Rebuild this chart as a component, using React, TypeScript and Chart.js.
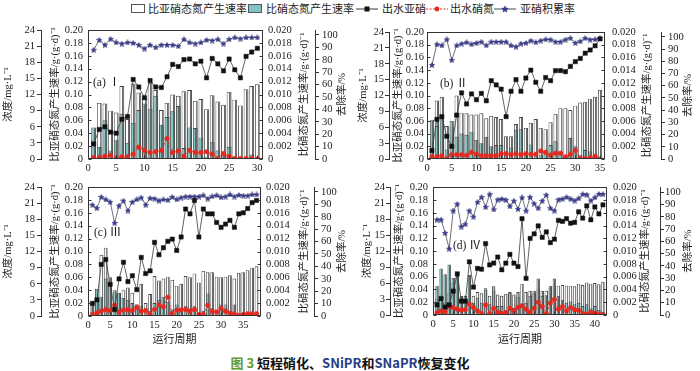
import React, { useEffect, useRef } from 'react';
import { Chart, registerables } from 'chart.js';
Chart.register(...registerables);

// ---------- data ----------
const CYCLES_A = [1, 2, 3, 4, 5, 6, 7, 8, 9, 10, 11, 12, 13, 14, 15, 16, 17, 18, 19, 20, 21, 22, 23, 24, 25, 26, 27, 28, 29, 30];
const A_NO2_RATE = [0.03, 0.087, 0.086, 0.075, 0.072, 0.113, 0.062, 0.117, 0.103, 0.094, 0.118, 0.107, 0.076, 0.087, 0.100, 0.098, 0.105, 0.107, 0.090, 0.093, 0.077, 0.099, 0.089, 0.084, 0.104, 0.092, 0.083, 0.108, 0.113, 0.116];
const A_NO3_RATE = [0.0049, 0.0019, 0.006, 0.0013, 0.003, 0.007, 0.0025, 0.0056, 0.0076, 0.0086, 0.0078, 0.0098, 0.0053, 0.0065, 0.0074, 0.0082, 0.0017, 0.0049, 0.0048, 0.0033, 0.0004, 0.0026, 0.0013, 0.0008, 0.0019, 0.0004, 0.0002, 0.0002, 0.0007, 0.0001];
const A_NO2_EFF = [2.8, 5.5, 6.0, 5.0, 4.8, 7.4, 7.9, 14.8, 13.4, 11.4, 14.6, 13.4, 13.3, 15.3, 17.6, 17.2, 18.5, 18.6, 17.7, 18.2, 15.1, 18.7, 17.7, 16.4, 18.6, 16.6, 15.1, 19.1, 19.9, 20.6];
const A_NO3_EFF = [0.25, 0.25, 0.5, 0.7, 0.2, 0.4, 0.4, 0.9, 2.2, 1.6, 1.2, 1.35, 1.6, 3.8, 1.2, 1.5, 0.5, 1.6, 1.2, 1.2, 1.35, 0.9, 0.1, 1.0, 0.5, 0.1, 0.1, 0.1, 0.1, 0.0];
const A_NAR = [88, 96, 92, 96.8, 94, 93, 94, 93.6, 92, 89, 92, 90, 92, 92, 92, 91, 96.5, 94, 93, 94, 96, 95.5, 96.5, 93, 96.5, 98, 97, 98, 98, 98];

const CYCLES_B = [1, 2, 3, 4, 5, 6, 7, 8, 9, 10, 11, 12, 13, 14, 15, 16, 17, 18, 19, 20, 21, 22, 23, 24, 25, 26, 27, 28, 29, 30, 31, 32, 33, 34, 35];
const B_NO2_RATE = [0.03, 0.092, 0.098, 0.052, 0.05, 0.100, 0.073, 0.072, 0.070, 0.070, 0.072, 0.064, 0.068, 0.066, 0.063, 0.036, 0.036, 0.055, 0.066, 0.049, 0.057, 0.063, 0.049, 0.047, 0.058, 0.071, 0.080, 0.080, 0.077, 0.084, 0.089, 0.090, 0.095, 0.098, 0.109];
const B_NO3_RATE = [0.0062, 0.0052, 0.0068, 0.0015, 0.006, 0.0035, 0.0040, 0.0038, 0.0042, 0.003, 0.0025, 0.0035, 0.002, 0.0022, 0.0022, 0.0012, 0.0018, 0.0046, 0.0047, 0.0008, 0.0023, 0.0010, 0.0006, 0.0012, 0.0022, 0.0028, 0.0012, 0.0005, 0.0033, 0.0020, 0.0006, 0.0014, 0.0012, 0.0008, 0.0003];
const B_NO2_EFF = [1.6, 7.5, 8.0, 4.3, 2.4, 8.3, 12.5, 10.4, 12.3, 11.2, 12.4, 11.0, 14.8, 14.0, 13.2, 8.0, 12.8, 15.0, 12.8, 15.3, 16.8, 14.5, 12.8, 15.4, 14.8, 16.7, 16.7, 16.5, 17.5, 18.4, 19.0, 20.0, 20.6, 21.4, 22.7];
const B_NO3_EFF = [0.4, 0.4, 0.6, 0.1, 0.8, 0.8, 0.8, 0.7, 1.25, 0.9, 0.6, 0.6, 0.6, 0.6, 1.0, 1.0, 0.8, 1.0, 0.8, 1.0, 0.9, 0.9, 1.5, 1.25, 0.75, 1.1, 1.1, 0.4, 0.9, 1.6, 0.1, 0.1, 0.25, 0.5, 0.0];
const B_NAR = [77, 94, 93, 98, 81, 93, 94.5, 95.6, 94, 95, 96, 93, 96, 96, 96, 96, 93, 92, 94.5, 95, 97, 95.6, 97, 98, 97.8, 96, 96, 97.8, 99, 95, 96.4, 99, 97.8, 98, 99];

const CYCLES_C = [1, 2, 3, 4, 5, 6, 7, 8, 9, 10, 11, 12, 13, 14, 15, 16, 17, 18, 19, 20, 21, 22, 23, 24, 25, 26, 27, 28, 29, 30, 31, 32, 33, 34, 35, 36, 37, 38];
const C_NO2_RATE = [0.02, 0.03, 0.095, 0.106, 0.060, 0.040, 0.036, 0.040, 0.044, 0.036, 0.018, 0.050, 0.020, 0.034, 0.062, 0.055, 0.058, 0.061, 0.056, 0.047, 0.050, 0.062, 0.060, 0.066, 0.052, 0.070, 0.068, 0.068, 0.061, 0.060, 0.061, 0.063, 0.058, 0.067, 0.068, 0.071, 0.075, 0.077];
const C_NO3_RATE = [0.002, 0.0042, 0.003, 0.0058, 0.0052, 0.0038, 0.0035, 0.0028, 0.0025, 0.002, 0.0018, 0.0015, 0.0012, 0.0008, 0.002, 0.0025, 0.003, 0.0022, 0.001, 0.0018, 0.0012, 0.0015, 0.001, 0.0015, 0.0005, 0.0008, 0.0035, 0.0012, 0.0008, 0.0018, 0.0018, 0.0008, 0.0018, 0.0003, 0.0003, 0.0003, 0.0003, 0.0003];
const C_NO2_EFF = [2.35, 3.0, 9.6, 10.5, 5.9, 1.2, 6.9, 10.0, 6.4, 7.5, 4.9, 10.9, 7.9, 8.4, 13.7, 11.4, 12.7, 13.9, 14.3, 12.2, 14.7, 19.9, 19.0, 21.5, 14.7, 19.9, 19.0, 19.0, 17.4, 16.5, 17.1, 17.8, 16.5, 19.0, 19.2, 20.0, 21.1, 21.5];
const C_NO3_EFF = [0.25, 0.6, 0.9, 1.2, 1.0, 2.0, 0.75, 1.1, 1.2, 1.0, 1.6, 0.9, 1.0, 0.4, 1.2, 2.1, 1.7, 3.5, 0.4, 1.1, 1.1, 1.2, 0.9, 1.2, 0.25, 0.25, 2.0, 0.9, 0.75, 1.4, 0.9, 0.5, 0.4, 0.1, 0.25, 0.4, 0.4, 0.4];
const C_NAR = [89.6, 87, 96, 94, 92, 75, 89, 93, 85, 92, 94, 95.5, 89.6, 95, 94.7, 93, 94, 93.6, 96, 94, 95.5, 96.3, 96.3, 96.3, 96.3, 97.3, 94.7, 96.5, 97.3, 95.7, 96.3, 98, 96.3, 97.6, 97, 97, 98, 98];

const CYCLES_D = [1, 2, 3, 4, 5, 6, 7, 8, 9, 10, 11, 12, 13, 14, 15, 16, 17, 18, 19, 20, 21, 22, 23, 24, 25, 26, 27, 28, 29, 30, 31, 32, 33, 34, 35, 36, 37, 38, 39, 40, 41, 42];
const D_NO2_RATE = [0.025, 0.03, 0.02, 0.035, 0.05, 0.066, 0.028, 0.03, 0.061, 0.03, 0.036, 0.034, 0.040, 0.030, 0.038, 0.032, 0.030, 0.033, 0.036, 0.032, 0.028, 0.049, 0.036, 0.038, 0.038, 0.040, 0.038, 0.038, 0.042, 0.046, 0.046, 0.047, 0.046, 0.046, 0.045, 0.049, 0.047, 0.051, 0.049, 0.050, 0.048, 0.052];
const D_NO3_RATE = [0.0046, 0.0073, 0.0064, 0.0079, 0.0058, 0.0061, 0.003, 0.003, 0.0063, 0.0019, 0.0027, 0.0019, 0.0042, 0.0017, 0.0045, 0.0014, 0.0014, 0.0008, 0.0035, 0.0011, 0.0036, 0.0017, 0.0019, 0.003, 0.0034, 0.0057, 0.003, 0.0031, 0.0046, 0.0057, 0.003, 0.0024, 0.0019, 0.0021, 0.0017, 0.0019, 0.0014, 0.0017, 0.001, 0.0014, 0.0008, 0.0005];
const D_NO2_EFF = [1.9, 3.1, 1.5, 1.9, 4.5, 7.75, 2.6, 2.6, 10.0, 5.25, 8.75, 8.6, 13.4, 9.4, 9.75, 10.9, 8.5, 9.75, 11.4, 9.75, 9.1, 18.1, 6.9, 14.4, 15.25, 16.75, 14.6, 15.6, 13.6, 14.25, 17.8, 17.6, 18.1, 17.25, 17.4, 19.4, 18.2, 20.5, 17.9, 20.3, 19.0, 20.7];
const D_NO3_EFF = [0.4, 0.75, 0.6, 1.6, 1.4, 1.1, 0.9, 1.0, 2.0, 1.4, 0.75, 0.25, 1.9, 0.25, 1.25, 0.5, 0.25, 0.4, 1.25, 0.75, 1.4, 1.75, 1.1, 0.5, 1.25, 2.4, 1.6, 0.25, 2.25, 2.9, 1.1, 1.6, 0.75, 1.4, 1.0, 0.9, 0.25, 0.1, 0.5, 0.25, 0.1, 0.1];
const D_NAR = [77.7, 77.7, 66.8, 54, 85, 90.5, 72, 74, 85, 80, 92, 96, 88, 98.4, 86, 94, 94.6, 93.8, 88.6, 93, 86.4, 95.7, 85, 96, 90.8, 87, 93, 97.8, 87, 85, 94, 94.6, 96, 94.6, 93.2, 95, 98.4, 98, 93.2, 95.7, 98.6, 98.4];

// tick labels
const CONC_TICKS = [0, 3, 6, 9, 12, 15, 18, 21, 24];
const NO2R_TICKS = [0, 0.02, 0.04, 0.06, 0.08, 0.10, 0.12, 0.14, 0.16, 0.18, 0.20];
const NO3R_TICKS = [0, 0.002, 0.004, 0.006, 0.008, 0.010, 0.012, 0.014, 0.016, 0.018, 0.020];
const REM_TICKS = [0, 10, 20, 30, 40, 50, 60, 70, 80, 90, 100];
const X_TICKS_A = [0, 5, 10, 15, 20, 25, 30];
const X_TICKS_B = [0, 5, 10, 15, 20, 25, 30, 35];
const X_TICKS_C = [0, 5, 10, 15, 20, 25, 30, 35];
const X_TICKS_D = [0, 5, 10, 15, 20, 25, 30, 35, 40];

// text
const S_NO2_RATE = '比亚硝态氮产生速率';
const S_NO3_RATE = '比硝态氮产生速率';
const S_NO2_EFF = '出水亚硝';
const S_NO3_EFF = '出水硝氮';
const S_NAR = '亚硝积累率';
const T_CONC = '浓度/mg·L⁻¹';
const T_NO2R = '比亚硝态氮产生速率/g·(g·d)⁻¹';
const T_NO3R = '比硝态氮产生速率/g·(g·d)⁻¹';
const T_REM = '去除率/%';
const T_X = '运行周期';

// ---------- style ----------
const SERIF = "'Liberation Serif', 'Times New Roman', 'Noto Sans CJK SC', serif";
const INK = '#1c1c1c';
const AX = '#333333';
const BAR_PCT = 0.85;
const TEAL_FRONT = '#80c4c4';
const TEAL_SIDE = '#5f6a6a';
const WHITE_SIDE = '#6a6a6a';
const BAR_EDGE = '#474747';
const RED = '#e6281e';
const STAR_FILL = '#3a3d96';
const STAR_EDGE = '#1f2066';
const TITLE_SIZE = 10.5;

function makeStar(size: number) {
  const c = document.createElement('canvas');
  c.width = size; c.height = size;
  const g = c.getContext('2d')!;
  const cx = size / 2, cy = size / 2 + 0.3, R = size / 2 - 0.2, r = R * 0.45;
  g.beginPath();
  for (let i = 0; i < 10; i++) {
    const a = -Math.PI / 2 + (i * Math.PI) / 5;
    const rr = i % 2 === 0 ? R : r;
    g.lineTo(cx + rr * Math.cos(a), cy + rr * Math.sin(a));
  }
  g.closePath();
  g.fillStyle = STAR_FILL; g.fill();
  g.strokeStyle = STAR_EDGE; g.lineWidth = 0.5; g.stroke();
  return c;
}

const barFill = (front: string, side: string, split: number) => (ctx: any) => {
  const chart = ctx.chart;
  const xs = chart.scales && chart.scales.x;
  if (ctx.type !== 'data' || !xs || !ctx.raw || !chart.chartArea) return front;
  const px = xs.getPixelForValue(ctx.raw.x);
  const step = Math.abs(xs.getPixelForValue(1) - xs.getPixelForValue(0));
  const w = step * BAR_PCT;
  if (!isFinite(px) || !isFinite(w) || w <= 0) return front;
  const g = chart.ctx.createLinearGradient(px - w / 2, 0, px + w / 2, 0);
  g.addColorStop(0, front);
  g.addColorStop(split, front);
  g.addColorStop(Math.min(1, split + 0.001), side);
  g.addColorStop(1, side);
  return g;
};

// frame, inward ticks, and right-hand axis titles reading bottom-to-top
const framePlugin = {
  id: 'frame',
  afterDraw(chart: any, _args: any, opts: any) {
    const { ctx, chartArea: a, scales } = chart;
    ctx.save();
    ctx.strokeStyle = AX;
    ctx.lineWidth = 1;
    const L = Math.round(a.left) + 0.5, R = Math.round(a.right) - 0.5;
    const T = Math.round(a.top) + 0.5, B = Math.round(a.bottom) - 0.5;
    ctx.strokeRect(L, T, R - L, B - T);
    ctx.beginPath();
    for (const t of scales.yL.ticks) {
      const y = Math.round(scales.yL.getPixelForValue(t.value)) + 0.5;
      ctx.moveTo(L, y); ctx.lineTo(L + 3, y);
    }
    for (const t of scales.yR.ticks) {
      const y = Math.round(scales.yR.getPixelForValue(t.value)) + 0.5;
      ctx.moveTo(R, y); ctx.lineTo(R - 3, y);
    }
    for (const t of scales.x.ticks) {
      const x = Math.round(scales.x.getPixelForValue(t.value)) + 0.5;
      ctx.moveTo(x, B); ctx.lineTo(x, B - 3);
    }
    ctx.stroke();

    ctx.fillStyle = INK;
    ctx.font = `${TITLE_SIZE}px ${SERIF}`;
    ctx.textAlign = 'center';
    ctx.textBaseline = 'middle';
    const cy = (a.top + a.bottom) / 2;
    const half = (TITLE_SIZE * 1.2) / 2;
    const items = [
      { s: scales.yR, text: T_NO3R, pad: opts.tpR },
      { s: scales.yP, text: T_REM, pad: opts.tpP },
    ];
    for (const it of items) {
      const x = it.s.right - it.pad - half;
      ctx.save();
      ctx.translate(x, cy);
      ctx.rotate(-Math.PI / 2);
      ctx.fillText(it.text, 0, 0);
      ctx.restore();
    }
    ctx.restore();
  },
};

type PanelCfg = {
  left: number; top: number; width: number; height: number;
  padTop: number; xHeight: number;
  wC: number; wL: number; wR: number; wP: number;
  tpC: number; tpL: number; tpR: number; tpP: number;
  lpC: number; lpL: number; lpR: number; lpP: number;
  xMax: number; xTicks: number[]; xTitle: boolean;
  cycles: number[]; no2Rate: number[]; no3Rate: number[];
  no2Eff: number[]; no3Eff: number[]; nar: number[];
};

const PANELS: PanelCfg[] = [
  {
    left: 0, top: 18, width: 352, height: 157, padTop: 12, xHeight: 16,
    wC: 41, wL: 47, wR: 52, wP: 37, tpC: 2, tpL: 8, tpR: 4, tpP: 3,
    lpC: 2, lpL: 5, lpR: 5, lpP: 3, xMax: 31, xTicks: X_TICKS_A, xTitle: false,
    cycles: CYCLES_A, no2Rate: A_NO2_RATE, no3Rate: A_NO3_RATE, no2Eff: A_NO2_EFF, no3Eff: A_NO3_EFF, nar: A_NAR,
  },
  {
    left: 352, top: 18, width: 348, height: 157, padTop: 14, xHeight: 16,
    wC: 37, wL: 38, wR: 56, wP: 39, tpC: 4.7, tpL: 2.7, tpR: 7.7, tpP: 5.7,
    lpC: 1, lpL: 3, lpR: 7, lpP: 3, xMax: 36, xTicks: X_TICKS_B, xTitle: false,
    cycles: CYCLES_B, no2Rate: B_NO2_RATE, no3Rate: B_NO3_RATE, no2Eff: B_NO2_EFF, no3Eff: B_NO3_EFF, nar: B_NAR,
  },
  {
    left: 0, top: 175, width: 352, height: 173, padTop: 12, xHeight: 32,
    wC: 41, wL: 47, wR: 53, wP: 38, tpC: 2, tpL: 8, tpR: 3.7, tpP: 3.7,
    lpC: 2, lpL: 5, lpR: 5, lpP: 3, xMax: 39, xTicks: X_TICKS_C, xTitle: true,
    cycles: CYCLES_C, no2Rate: C_NO2_RATE, no3Rate: C_NO3_RATE, no2Eff: C_NO2_EFF, no3Eff: C_NO3_EFF, nar: C_NAR,
  },
  {
    left: 352, top: 175, width: 348, height: 173, padTop: 11, xHeight: 33,
    wC: 38, wL: 43, wR: 53, wP: 40, tpC: 8.7, tpL: 2.7, tpR: 8.7, tpP: 5.7,
    lpC: 1, lpL: 5, lpR: 6, lpP: 1, xMax: 43, xTicks: X_TICKS_D, xTitle: true,
    cycles: CYCLES_D, no2Rate: D_NO2_RATE, no3Rate: D_NO3_RATE, no2Eff: D_NO2_EFF, no3Eff: D_NO3_EFF, nar: D_NAR,
  },
];

const PANEL_LABELS = [
  { text: '(a) Ⅰ', left: 93, top: 75 },
  { text: '(b) Ⅱ', left: 440, top: 76 },
  { text: '(c) Ⅲ', left: 94, top: 225 },
  { text: '(d) Ⅳ', left: 453, top: 238 },
];

function Panel({ cfg }: { cfg: PanelCfg }) {
  const ref = useRef<HTMLCanvasElement>(null);
  useEffect(() => {
    const canvas = ref.current!;
    const star = makeStar(6);
    const pts = (ys: number[]) => cfg.cycles.map((x, i) => ({ x, y: ys[i] }));
    const fixW = (w: number) => (s: any) => { s.width = w; };
    const setTicks = (vals: number[]) => (s: any) => { s.ticks = vals.map((v) => ({ value: v })); };
    const tickFont = { family: SERIF, size: 10.5 };
    const titleFont = { family: SERIF, size: TITLE_SIZE };
    const innerGrid = { display: false, drawTicks: false };
    const outerGrid = { display: true, drawOnChartArea: false, drawTicks: true, tickLength: 4, color: AX, lineWidth: 1 };

    const chart = new Chart(canvas, {
      type: 'bar',
      data: {
        datasets: [
          {
            type: 'line', label: S_NO2_EFF, data: pts(cfg.no2Eff), yAxisID: 'yC', order: 0,
            borderColor: '#3a3a3a', borderWidth: 0.8, pointStyle: 'rect', pointRadius: 3,
            pointBackgroundColor: '#111', pointBorderColor: '#111', pointBorderWidth: 0.5, tension: 0,
          },
          {
            type: 'line', label: S_NO3_EFF, data: pts(cfg.no3Eff), yAxisID: 'yC', order: 0,
            borderColor: RED, borderWidth: 0.9, borderDash: [2, 1.5], pointStyle: 'circle', pointRadius: 2.3,
            pointBackgroundColor: RED, pointBorderColor: RED, pointBorderWidth: 0.5, tension: 0,
          },
          {
            type: 'line', label: S_NAR, data: pts(cfg.nar), yAxisID: 'yP', order: 0,
            borderColor: '#4a4a5e', borderWidth: 0.8, pointStyle: star, pointRadius: 3, tension: 0,
          },
          {
            type: 'bar', label: S_NO3_RATE, data: pts(cfg.no3Rate), yAxisID: 'yR', order: 1,
            backgroundColor: barFill(TEAL_FRONT, TEAL_SIDE, 0.5), borderColor: BAR_EDGE, borderWidth: 0.9,
            grouped: false, barPercentage: BAR_PCT, categoryPercentage: 1,
          },
          {
            type: 'bar', label: S_NO2_RATE, data: pts(cfg.no2Rate), yAxisID: 'yL', order: 2,
            backgroundColor: barFill('#ffffff', WHITE_SIDE, 0.56), borderColor: BAR_EDGE, borderWidth: 0.9,
            grouped: false, barPercentage: BAR_PCT, categoryPercentage: 1,
          },
        ],
      } as any,
      options: {
        animation: false,
        responsive: false,
        maintainAspectRatio: false,
        layout: { padding: { top: cfg.padTop, left: 0, right: 0, bottom: 0 } },
        plugins: { legend: { display: false }, tooltip: { enabled: false }, frame: { tpR: cfg.tpR, tpP: cfg.tpP } },
        scales: {
          x: {
            type: 'linear', position: 'bottom', min: 0, max: cfg.xMax, offset: false,
            afterBuildTicks: setTicks(cfg.xTicks),
            afterFit: (s: any) => { s.height = cfg.xHeight; },
            ticks: { autoSkip: false, maxRotation: 0, padding: 3, font: tickFont, color: INK, callback: (v: any) => String(v) },
            grid: innerGrid, border: { display: false },
            title: cfg.xTitle
              ? { display: true, text: T_X, font: { family: SERIF, size: 11 }, color: INK, padding: { top: 0, bottom: 1.4 } }
              : { display: false },
          },
          yC: {
            type: 'linear', position: 'left', weight: 2, min: 0, max: 24,
            afterBuildTicks: setTicks(CONC_TICKS), afterFit: fixW(cfg.wC),
            ticks: { autoSkip: false, font: tickFont, color: INK, padding: cfg.lpC, callback: (v: any) => String(v) },
            grid: outerGrid, border: { display: true, color: AX, width: 1 },
            title: { display: true, text: T_CONC, font: titleFont, color: INK, padding: { top: cfg.tpC, bottom: 0 } },
          },
          yL: {
            type: 'linear', position: 'left', weight: 1, min: 0, max: 0.2,
            afterBuildTicks: setTicks(NO2R_TICKS), afterFit: fixW(cfg.wL),
            ticks: { autoSkip: false, font: tickFont, color: INK, padding: cfg.lpL, callback: (v: any) => (v === 0 ? '0' : Number(v).toFixed(2)) },
            grid: innerGrid, border: { display: false },
            title: { display: true, text: T_NO2R, font: titleFont, color: INK, padding: { top: cfg.tpL, bottom: 0 } },
          },
          yR: {
            type: 'linear', position: 'right', weight: 1, min: 0, max: 0.02,
            afterBuildTicks: setTicks(NO3R_TICKS), afterFit: fixW(cfg.wR),
            ticks: { autoSkip: false, font: tickFont, color: INK, padding: cfg.lpR, callback: (v: any) => (v === 0 ? '0' : Number(v).toFixed(3)) },
            grid: innerGrid, border: { display: false },
            title: { display: false },
          },
          yP: {
            type: 'linear', position: 'right', weight: 2, min: 0, max: 104,
            afterBuildTicks: setTicks(REM_TICKS), afterFit: fixW(cfg.wP),
            ticks: { autoSkip: false, font: tickFont, color: INK, padding: cfg.lpP, callback: (v: any) => String(v) },
            grid: outerGrid, border: { display: true, color: AX, width: 1 },
            title: { display: false },
          },
        },
      } as any,
      plugins: [framePlugin],
    });
    return () => chart.destroy();
  }, [cfg]);
  return (
    <canvas
      ref={ref}
      width={cfg.width}
      height={cfg.height}
      style={{ position: 'absolute', left: cfg.left, top: cfg.top, width: cfg.width, height: cfg.height }}
    />
  );
}

const STAR_POINTS = (() => {
  const out: string[] = [];
  for (let i = 0; i < 10; i++) {
    const a = -Math.PI / 2 + (i * Math.PI) / 5;
    const rr = i % 2 === 0 ? 3.4 : 1.5;
    out.push(`${(11 + rr * Math.cos(a)).toFixed(2)},${(5.3 + rr * Math.sin(a)).toFixed(2)}`);
  }
  return out.join(' ');
})();

const legendText: React.CSSProperties = {
  position: 'absolute', top: 2, fontFamily: SERIF, fontSize: 11, lineHeight: '14px', color: INK, whiteSpace: 'nowrap',
};

function Legend() {
  return (
    <>
      <svg style={{ position: 'absolute', left: 131, top: 4 }} width={15} height={10}>
        <rect x={0.5} y={0.5} width={13} height={8} fill="#fff" stroke="#555" />
      </svg>
      <div style={{ ...legendText, left: 148 }}>{S_NO2_RATE}</div>
      <svg style={{ position: 'absolute', left: 248, top: 4 }} width={15} height={10}>
        <rect x={0.5} y={0.5} width={13} height={8} fill={TEAL_FRONT} stroke="#555" />
      </svg>
      <div style={{ ...legendText, left: 266 }}>{S_NO3_RATE}</div>
      <svg style={{ position: 'absolute', left: 356, top: 4 }} width={22} height={10}>
        <line x1={0} y1={5} x2={22} y2={5} stroke="#3a3a3a" strokeWidth={1} />
        <rect x={8.5} y={2.5} width={5} height={5} fill="#111" />
      </svg>
      <div style={{ ...legendText, left: 382 }}>{S_NO2_EFF}</div>
      <svg style={{ position: 'absolute', left: 426, top: 4 }} width={22} height={10}>
        <line x1={0} y1={5} x2={22} y2={5} stroke={RED} strokeWidth={1} strokeDasharray="2 1.5" />
        <circle cx={11} cy={5} r={2.4} fill={RED} />
      </svg>
      <div style={{ ...legendText, left: 450 }}>{S_NO3_EFF}</div>
      <svg style={{ position: 'absolute', left: 494, top: 4 }} width={22} height={10}>
        <line x1={0} y1={5} x2={22} y2={5} stroke="#4a4a5e" strokeWidth={1} />
        <polygon points={STAR_POINTS} fill={STAR_FILL} stroke={STAR_EDGE} strokeWidth={0.5} />
      </svg>
      <div style={{ ...legendText, left: 520 }}>{S_NAR}</div>
    </>
  );
}

export default function App() {
  return (
    <div style={{ position: 'fixed', left: 0, top: 0, width: 700, height: 371, background: '#fff', overflow: 'hidden' }}>
      <Legend />
      {PANELS.map((p, i) => (
        <Panel key={i} cfg={p} />
      ))}
      {PANEL_LABELS.map((l, i) => (
        <div
          key={i}
          style={{ position: 'absolute', left: l.left, top: l.top, fontFamily: SERIF, fontSize: 11.5, lineHeight: '14px', color: INK, whiteSpace: 'nowrap' }}
        >
          {l.text}
        </div>
      ))}
      <div
        style={{
          position: 'absolute', left: 0, width: 700, top: 354, textAlign: 'center',
          fontFamily: "'Noto Sans CJK SC', 'Noto Sans', sans-serif", fontWeight: 700, fontSize: 13, lineHeight: '17px', color: '#111',
        }}
      >
        <span style={{ color: '#5f9a2e' }}>图 3</span> 短程硝化、<span style={{ color: '#263d86' }}>SNiPR</span>和
        <span style={{ color: '#263d86' }}>SNaPR</span>恢复变化
      </div>
    </div>
  );
}
